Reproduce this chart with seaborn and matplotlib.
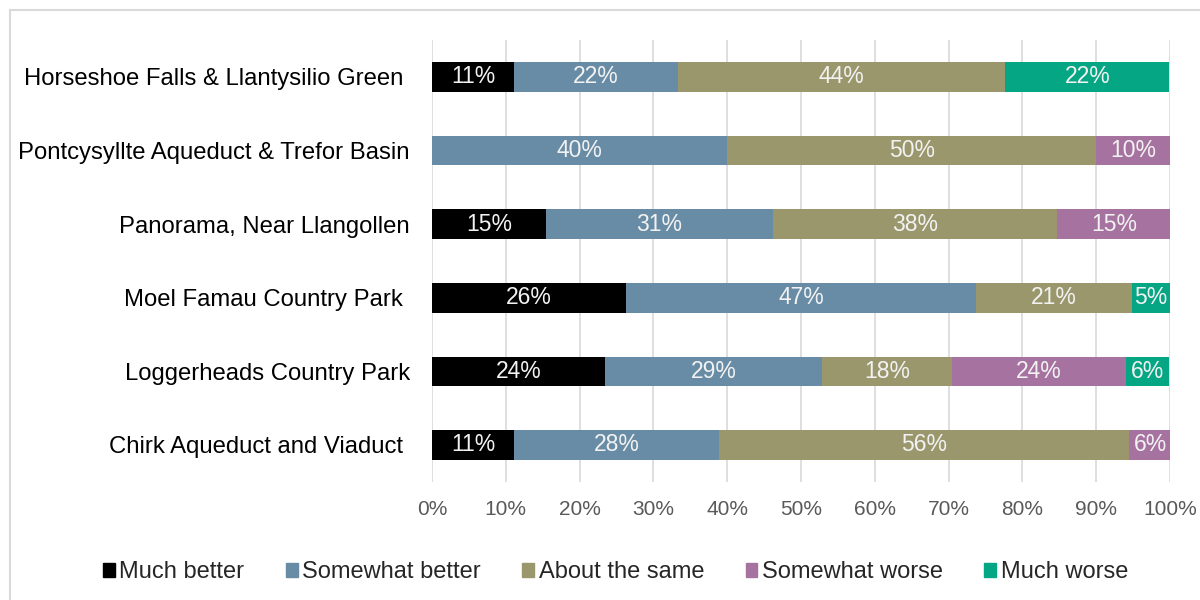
import matplotlib
matplotlib.use("Agg")
import matplotlib.pyplot as plt
import matplotlib.patches as mpatches
from matplotlib.ticker import FuncFormatter
import numpy as np
import pandas as pd
import seaborn as sns

# Survey: how has each site changed?
sites = [
    "Horseshoe Falls & Llantysilio Green ",
    "Pontcysyllte Aqueduct & Trefor Basin",
    "Panorama, Near Llangollen",
    "Moel Famau Country Park ",
    "Loggerheads Country Park",
    "Chirk Aqueduct and Viaduct ",
]
responses = ["Much better", "Somewhat better", "About the same",
             "Somewhat worse", "Much worse"]
much_better = [11.1, 0.0, 15.4, 26.3, 23.5, 11.1]
somewhat_better = [22.2, 40.0, 30.8, 47.4, 29.4, 27.8]
about_same = [44.4, 50.0, 38.5, 21.1, 17.6, 55.6]
somewhat_worse = [0.0, 10.0, 15.4, 0.0, 23.5, 5.6]
much_worse = [22.2, 0.0, 0.0, 5.3, 5.9, 0.0]
colors = ["#000000", "#688ca6", "#9b976d", "#a673a0", "#04a683"]

series = [much_better, somewhat_better, about_same, somewhat_worse, much_worse]
df = pd.DataFrame({r: v for r, v in zip(responses, series)}, index=sites)
cum = df.cumsum(axis=1)

sns.set_theme(style="white")
plt.rcParams["font.family"] = ["Liberation Sans", "DejaVu Sans"]

fig = plt.figure(figsize=(12, 6), dpi=100)
ax = fig.add_axes([0.36, 0.197, 0.615, 0.736])

# Stacked bars: draw cumulative totals from the outermost segment inward
for resp, col in reversed(list(zip(responses, colors))):
    sns.barplot(x=cum[resp].values, y=sites, order=sites, orient="h",
                color=col, width=0.4, linewidth=0, saturation=1, ax=ax)

# Segment labels
for i, site in enumerate(sites):
    left = 0.0
    for resp in responses:
        v = df.loc[site, resp]
        if v > 0:
            ax.text(left + v / 2, i, f"{v:.0f}%", ha="center", va="center",
                    color="#f2f2f2", fontsize=16.5)
        left += v

ax.set_xlim(0, 100)
ax.set_ylim(5.5, -0.5)
ax.set_xticks(np.arange(0, 101, 10))
ax.xaxis.set_major_formatter(FuncFormatter(lambda x, _: f"{x:.0f}%"))
ax.grid(axis="x", color="#d9d9d9", linewidth=1.2)
ax.set_axisbelow(True)
for s in ax.spines.values():
    s.set_visible(False)
ax.tick_params(axis="x", colors="#595959", labelsize=15, pad=13, length=0)
ax.tick_params(axis="y", colors="black", labelsize=17.2, pad=16, length=0)
ax.set_xlabel("")
ax.set_ylabel("")

handles = [mpatches.Patch(color=c, label=r) for r, c in zip(responses, colors)]
fig.legend(handles=handles, loc="center", bbox_to_anchor=(0.513, 0.046),
           ncol=5, frameon=False, fontsize=17, handlelength=0.5,
           handleheight=0.5, handletextpad=0.2, columnspacing=1.75)

# Light frame around the chart area
fig.patches.append(mpatches.Rectangle((10 / 1200, -0.1), 1.2, 1.1 - 10 / 600,
                                      transform=fig.transFigure, fill=False,
                                      edgecolor="#d9d9d9", linewidth=1.5))

fig.savefig("out.png", dpi=100)
